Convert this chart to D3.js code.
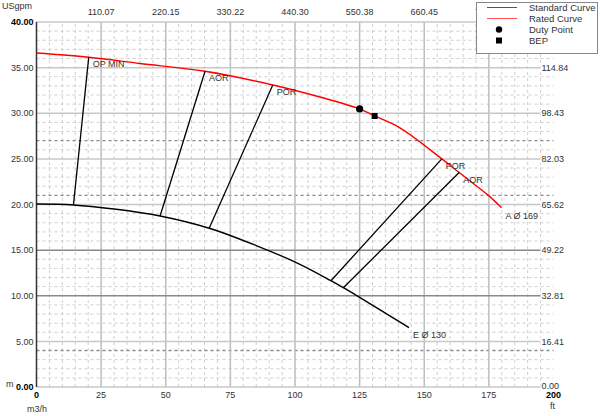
<!DOCTYPE html>
<html>
<head>
<meta charset="utf-8">
<script src="https://cdn.jsdelivr.net/npm/d3@7"></script>
<style>
  body { margin: 0; background: #fff; }
  svg { display: block; font-family: "Liberation Sans", Arial, sans-serif; }
  text { fill: #333; font-size: 9px; }
</style>
</head>
<body>
<svg width="600" height="416"></svg>
<script>
// flow in m3/h, head in m
var flowTicks = [0, 25, 50, 75, 100, 125, 150, 175, 200];
var usgpmTicks = ["110.07", "220.15", "330.22", "440.30", "550.38", "660.45", "770.52"];
var headTicks = [0, 5, 10, 15, 20, 25, 30, 35, 40];
var ftTicks = ["0.00", "16.41", "32.81", "49.22", "65.62", "82.03", "98.43", "114.84"];
var darkSolid = [10, 15];
var darkDashed = [4, 21, 27];

// rated curve A 169
var ratedQ = [0, 20.2, 40, 65.2, 91.4, 110, 125, 130.8, 140.6, 156.8, 163.5, 174.8, 179.9];
var ratedH = [36.6, 36.13, 35.45, 34.6, 33.1, 31.75, 30.47, 29.7, 28.4, 25.0, 23.5, 21.0, 19.65];

// standard curve E 130
var stdQ = [0, 14.3, 30, 47.8, 66.8, 85, 101.9, 113.9, 118.7, 125, 144.1];
var stdH = [20.05, 19.95, 19.5, 18.74, 17.4, 15.5, 13.45, 11.65, 10.88, 9.83, 6.5];

// operating range lines: [q low, h low, q high, h high]
var rangeNames = ["OP MIN", "AOR", "POR", "POR", "AOR"];
var rangeLines = [
  [14.3, 19.95, 20.2, 36.13],
  [47.8, 18.74, 65.2, 34.6],
  [66.8, 17.4, 91.4, 33.1],
  [113.9, 11.65, 156.8, 25.0],
  [118.7, 10.88, 163.5, 23.5]
];

var duty = [125, 30.47];
var bep = [130.8, 29.7];

var svg = d3.select("svg");
var x = d3.scaleLinear().domain([0, 200]).range([36.5, 553.5]);
var y = d3.scaleLinear().domain([0, 40]).range([387, 22]);

var grid = svg.append("g");

// minor dashed grid
grid.selectAll(".vminor")
  .data(d3.range(5, 200, 5).filter(function(d) { return d % 25 != 0; }))
  .enter().append("line")
    .attr("x1", x).attr("x2", x)
    .attr("y1", y(0)).attr("y2", y(40))
    .attr("stroke", "#cfcfcf").attr("stroke-dasharray", "3,3");

grid.selectAll(".hminor")
  .data(d3.range(1, 40).filter(function(d) { return d % 5 != 0; }))
  .enter().append("line")
    .attr("x1", x(0)).attr("x2", x(200))
    .attr("y1", y).attr("y2", y)
    .attr("stroke", function(d) { return darkDashed.indexOf(d) >= 0 ? "#8a8a8a" : "#cfcfcf"; })
    .attr("stroke-width", function(d) { return darkDashed.indexOf(d) >= 0 ? 1.3 : 1; })
    .attr("stroke-dasharray", "3,3");

// major grid
grid.selectAll(".vmajor")
  .data(flowTicks.filter(function(d) { return d > 0 && d < 200; }))
  .enter().append("line")
    .attr("x1", x).attr("x2", x)
    .attr("y1", y(0)).attr("y2", y(40))
    .attr("stroke", "#bdbdbd").attr("stroke-width", 1.5);

grid.selectAll(".hmajor")
  .data(headTicks)
  .enter().append("line")
    .attr("x1", x(0)).attr("x2", x(200))
    .attr("y1", y).attr("y2", y)
    .attr("stroke", function(d) { return darkSolid.indexOf(d) >= 0 ? "#8a8a8a" : "#c8c8c8"; })
    .attr("stroke-width", 1.5);

// left axis line
svg.append("line")
  .attr("x1", x(0)).attr("x2", x(0))
  .attr("y1", y(0)).attr("y2", y(40))
  .attr("stroke", "#333").attr("stroke-width", 1.5);

// left labels (m)
svg.append("g").selectAll("text")
  .data(headTicks)
  .enter().append("text")
    .attr("x", x(0) - 3)
    .attr("y", y)
    .attr("dy", "0.35em")
    .attr("text-anchor", "end")
    .style("font-weight", function(d) { return (d == 0 || d == 40) ? "bold" : null; })
    .style("fill", function(d) { return (d == 0 || d == 40) ? "#000" : null; })
    .text(function(d) { return d.toFixed(2); });

// right labels (ft)
var right = svg.append("g").selectAll("g")
  .data(ftTicks)
  .enter().append("g")
    .attr("transform", function(d, i) { return "translate(" + (x(200) - 12) + "," + y(headTicks[i]) + ")"; });
right.append("rect")
  .attr("x", -1).attr("y", -5).attr("width", 26).attr("height", 10)
  .attr("fill", "#fff");
right.append("text")
  .attr("dy", function(d, i) { return i == 0 ? "0.2em" : "0.35em"; })
  .text(function(d) { return d; });

// bottom labels
svg.append("g").selectAll("text")
  .data(flowTicks)
  .enter().append("text")
    .attr("x", x)
    .attr("y", y(0) + 11)
    .attr("text-anchor", "middle")
    .style("font-weight", function(d) { return (d == 0 || d == 200) ? "bold" : null; })
    .style("fill", function(d) { return (d == 0 || d == 200) ? "#000" : null; })
    .text(function(d) { return d; });

// top labels (USgpm)
svg.append("g").selectAll("text")
  .data(usgpmTicks)
  .enter().append("text")
    .attr("x", function(d, i) { return x(flowTicks[i + 1]); })
    .attr("y", 15)
    .attr("text-anchor", "middle")
    .text(function(d) { return d; });

// unit labels
svg.append("text").attr("x", 2).attr("y", 9).text("USgpm");
svg.append("text").attr("x", 6).attr("y", 387).text("m");
svg.append("text").attr("x", 27).attr("y", 412).text("m3/h");
svg.append("text").attr("x", 550).attr("y", 409).text("ft");

// curves
var line = d3.line()
  .x(function(d) { return x(d[0]); })
  .y(function(d) { return y(d[1]); })
  .curve(d3.curveCatmullRom.alpha(0.5));

var stdData = stdQ.map(function(q, i) { return [q, stdH[i]]; });
var ratedData = ratedQ.map(function(q, i) { return [q, ratedH[i]]; });

svg.append("path")
  .datum(stdData)
  .attr("d", line)
  .attr("fill", "none").attr("stroke", "#000").attr("stroke-width", 1.4);

svg.append("path")
  .datum(ratedData)
  .attr("d", line)
  .attr("fill", "none").attr("stroke", "#f00").attr("stroke-width", 1.4);

// operating range lines
svg.append("g").selectAll("line")
  .data(rangeLines)
  .enter().append("line")
    .attr("x1", function(d) { return x(d[0]); })
    .attr("y1", function(d) { return y(d[1]); })
    .attr("x2", function(d) { return x(d[2]); })
    .attr("y2", function(d) { return y(d[3]); })
    .attr("stroke", "#000").attr("stroke-width", 1.3);

svg.append("g").selectAll("text")
  .data(rangeLines)
  .enter().append("text")
    .attr("x", function(d) { return x(d[2]) + 4; })
    .attr("y", function(d) { return y(d[3]) + 10; })
    .text(function(d, i) { return rangeNames[i]; });

// curve end labels
var rEnd = ratedData[ratedData.length - 1];
var sEnd = stdData[stdData.length - 1];
svg.append("text")
  .attr("x", x(rEnd[0]) + 4).attr("y", y(rEnd[1]) + 11)
  .text("A Ø 169");
svg.append("text")
  .attr("x", x(sEnd[0]) + 4).attr("y", y(sEnd[1]) + 10)
  .text("E Ø 130");

// duty point and BEP
svg.append("circle")
  .attr("cx", x(duty[0])).attr("cy", y(duty[1])).attr("r", 3.6)
  .attr("fill", "#000");
svg.append("rect")
  .attr("x", x(bep[0]) - 3).attr("y", y(bep[1]) - 3)
  .attr("width", 6).attr("height", 6)
  .attr("fill", "#000");

// legend
var legend = svg.append("g").attr("transform", "translate(476,2)");
legend.append("rect")
  .attr("x", 0.5).attr("y", 0.5).attr("width", 121).attr("height", 51)
  .attr("fill", "#fff").attr("stroke", "#888");
var legendNames = ["Standard Curve", "Rated Curve", "Duty Point", "BEP"];
var li = legend.selectAll(".item")
  .data(legendNames)
  .enter().append("g")
    .attr("transform", function(d, i) { return "translate(0," + (5.5 + i * 11) + ")"; });
li.append("text")
  .attr("x", 53).attr("dy", "0.35em")
  .style("font-size", "9.5px")
  .text(function(d) { return d; });
li.filter(function(d, i) { return i < 2; }).append("line")
  .attr("x1", 11).attr("x2", 41)
  .attr("stroke", function(d, i) { return i == 0 ? "#555" : "#f55"; });
li.filter(function(d, i) { return i == 2; }).append("circle")
  .attr("cx", 23).attr("r", 3.2).attr("fill", "#000");
li.filter(function(d, i) { return i == 3; }).append("rect")
  .attr("x", 20).attr("y", -3).attr("width", 6).attr("height", 6).attr("fill", "#000");
</script>
</body>
</html>
